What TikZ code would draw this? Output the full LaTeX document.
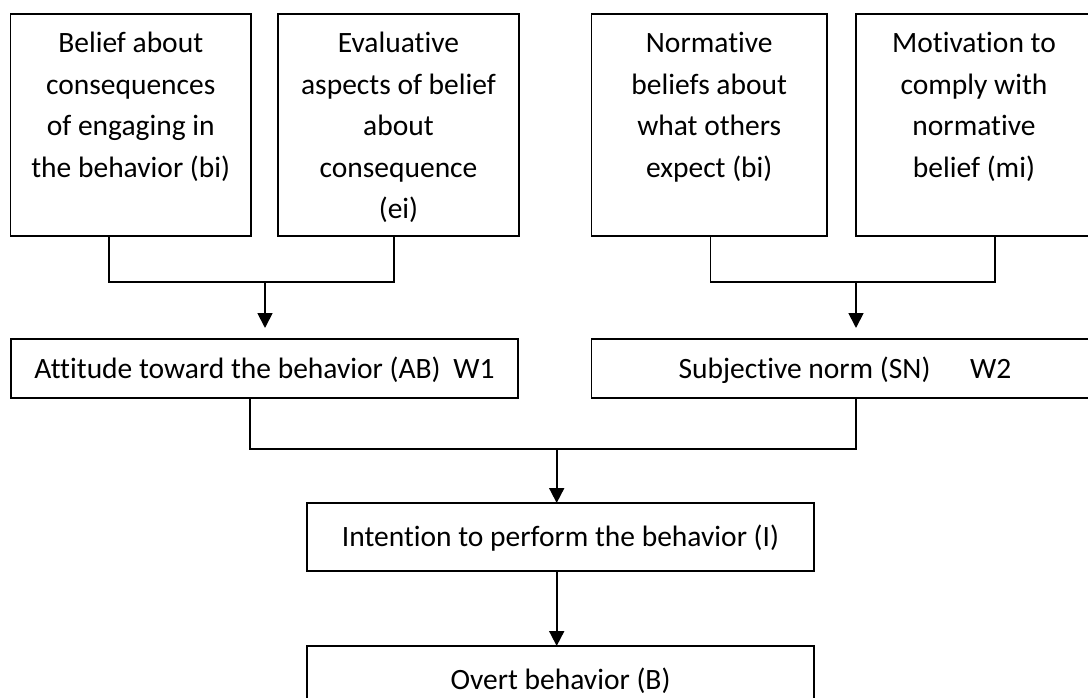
\documentclass[tikz,border=0pt]{standalone}
\usepackage{fontspec}
\setmainfont{Carlito}[Ligatures=NoCommon, Contextuals=NoAlternate]
\usetikzlibrary{arrows.meta}

% tall belief box: text starts near the top, first baseline 39pt below the edge
\newcommand{\beliefbox}[3]{\parbox[c][#1][t]{#2}{\centering\rule{0pt}{39pt}#3}}

\begin{document}
\begin{tikzpicture}[x=1pt,y=-1pt,
  every node/.style={font=\fontsize{29.5}{41.5}\selectfont},
  belief/.style={draw, line width=1.8pt, inner sep=0pt, outer sep=0pt},
  factor/.style={draw, line width=1.8pt, inner sep=0pt, outer sep=0pt,
    minimum width=507pt, text height=19pt, text depth=0pt},
  link/.style={line width=1.8pt},
  flow/.style={line width=1.8pt, -{Triangle[length=15pt,width=15pt]}}]

\useasboundingbox (0,0) rectangle (1088,698);
\clip (0,0) rectangle (1088,698);

% belief boxes
\node[belief] (b1) at (130.75,125) {\beliefbox{222pt}{240.5pt}{Belief about\\consequences\\of engaging in\\the behavior (bi)}};
\node[belief] (b2) at (398.5,125) {\beliefbox{222pt}{241pt}{Evaluative\\aspects of belief\\about\\consequence\\(ei)}};
\node[belief] (b3) at (709.25,125) {\beliefbox{222pt}{235.5pt}{Normative\\beliefs about\\what others\\expect (bi)}};
\node[belief] (b4) at (974,125) {\beliefbox{222pt}{236pt}{Motivation to\\comply with\\normative\\belief (mi)}};

% attitude, norm, intention, behaviour
\node[factor, minimum height=59pt] (ab) at (264.5,368.5) {Attitude toward the behavior (AB)\hspace{6pt} W1};
\node[factor, minimum height=59pt] (sn) at (845,368.5) {Subjective norm (SN)\hspace{33pt} W2};
\node[factor, minimum height=68pt] (in) at (560.5,537) {Intention to perform the behavior (I)};
\node[factor, minimum height=68pt] (ob) at (560.5,680) {Overt behavior (B)};

% junction points
\coordinate (l1) at (109,282);
\coordinate (l2) at (394,282);
\coordinate (lm) at (265,282);
\coordinate (r1) at (710.5,282);
\coordinate (r2) at (995,282);
\coordinate (rm) at (856,282);
\coordinate (m1) at (250,449);
\coordinate (m2) at (856,449);
\coordinate (mm) at (556.7,449);

% attitude branch
\draw[link] (b1.south -| l1) -- (l1) -- (l2) -- (b2.south -| l2);
\draw[flow, shorten >=11pt] (lm) -- (ab.north -| lm);

% norm branch
\draw[link] (b3.south -| r1) -- (r1) -- (r2) -- (b4.south -| r2);
\draw[flow, shorten >=11pt] (rm) -- (sn.north -| rm);

% combine into intention
\draw[link] (ab.south -| m1) -- (m1) -- (m2) -- (sn.south -| m2);
\draw[flow] (mm) -- (in.north -| mm);

% intention to behaviour
\draw[flow] (in.south -| mm) -- (ob.north -| mm);
\end{tikzpicture}
\end{document}
